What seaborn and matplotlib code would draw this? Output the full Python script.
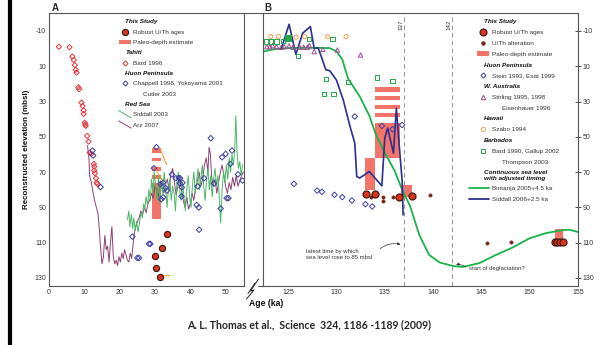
import numpy as np
import pandas as pd
import seaborn as sns
import matplotlib.pyplot as plt
from matplotlib.lines import Line2D
from matplotlib.patches import Patch
from matplotlib.legend_handler import HandlerLine2D

# -----------------------------
# Panel A data (0 - 55 ka)
# -----------------------------
tahiti_age = [2.8, 5.8, 6.6, 7.0, 7.3, 7.6, 7.8, 8.3, 8.5, 9.2, 9.5, 9.8, 9.8, 10.1,
              10.3, 10.4, 10.8, 11.2, 11.5, 12.0, 12.7, 12.8, 12.8, 13.0, 13.3, 13.5, 13.7]
tahiti_depth = [-1.0, -0.8, 4.5, 6.4, 9.3, 12.0, 13.6, 21.9, 23.0, 30.6, 32.5, 35.0, 37.0, 42.0,
                43.0, 43.8, 49.5, 52.7, 59.0, 59.7, 65.4, 66.9, 69.0, 70.6, 73.5, 76.0, 76.7]

huonA_age = [12.3, 12.5, 14.6, 23.6, 25.0, 25.5, 28.3, 28.7, 29.7, 30.4, 31.6, 31.8, 32.3, 32.3,
             33.0, 33.4, 34.8, 35.9, 36.7, 37.1, 37.0, 37.8, 37.6, 37.5, 41.8, 42.1, 42.4, 42.5,
             43.9, 45.8, 46.7, 48.6, 49.0, 50.0, 50.3, 50.8, 51.3, 51.8, 53.5, 54.8]
huonA_depth = [57.8, 60.6, 78.5, 106.6, 118.7, 118.7, 110.7, 110.7, 67.8, 55.9, 76.7, 85.4, 76.0, 84.3,
               79.0, 80.5, 71.3, 73.5, 73.3, 73.5, 76.3, 76.0, 78.7, 83.8, 88.6, 78.1, 90.1, 102.7,
               73.5, 50.8, 76.5, 90.7, 61.6, 59.7, 84.8, 84.8, 65.4, 57.8, 71.3, 74.8]

robustA_age = [33.3, 32.1, 30.0, 30.4, 31.4]
robustA_depth = [105.2, 113.3, 117.5, 124.3, 129.5]

# age uncertainty segments (start -> end)
errA_age0 = [31.4, 30.0, 31.4]
errA_age1 = [33.3, 32.3, 34.2]
errA_d0 = [56.5, 67.8, 129.0]
errA_d1 = [65.9, 75.4, 128.6]

# paleo-depth estimate bars
paleoA_left = [29.2, 29.2, 29.2, 29.2, 29.2]
paleoA_right = [31.6, 31.6, 31.6, 31.6, 31.6]
paleoA_top = [56.5, 61.8, 66.9, 71.6, 76.3]
paleoA_bot = [59.0, 64.0, 69.2, 74.0, 96.7]

siddall03_age = [22.2, 22.6, 22.9, 23.3, 23.7, 24.0, 24.4, 24.8, 25.2, 25.6, 26.0, 26.4, 26.8, 27.1,
                 27.5, 27.9, 28.3, 28.7, 29.0, 29.4, 29.8, 30.2, 30.6, 31.0, 31.4, 31.8, 32.2, 32.6,
                 33.0, 33.4, 33.8, 34.2, 34.6, 35.0, 35.4, 35.8, 36.2, 36.6, 37.0, 37.4, 37.8, 38.2,
                 38.6, 39.0, 39.4, 39.8, 40.2, 40.6, 41.0, 41.4, 41.8, 42.2, 42.6, 43.0, 43.4, 43.8,
                 44.2, 44.6, 45.0, 45.4, 45.8, 46.2, 46.6, 47.0, 47.4, 47.8, 48.2, 48.6, 49.0, 49.4,
                 49.8, 50.2, 50.6, 51.0, 51.4, 51.8, 52.2, 52.6, 52.9, 53.2, 53.6, 54.0, 54.4, 54.8]
siddall03_depth = [97, 92, 101, 94, 102, 96, 103, 98, 104, 99, 93, 96, 88, 91,
                   84, 89, 80, 86, 74, 82, 70, 78, 86, 72, 88, 76, 82, 70,
                   78, 90, 80, 74, 86, 78, 82, 92, 76, 70, 80, 86, 76, 84,
                   92, 80, 72, 84, 90, 78, 70, 82, 75, 68, 80, 74, 66, 78,
                   86, 74, 68, 80, 72, 84, 74, 68, 78, 72, 84, 99, 80, 70,
                   76, 66, 74, 62, 70, 60, 66, 56, 38, 58, 68, 64, 72, 66]

arz_age = [10.9, 11.3, 11.5, 12.0, 12.5, 12.9, 13.4, 13.9, 14.3, 14.6, 15.0, 15.4, 15.8, 16.2,
           16.6, 17.0, 17.4, 17.8, 18.2, 18.6, 19.0, 19.4, 19.8, 20.2, 20.6, 21.0, 21.4, 21.8,
           22.2, 22.6, 23.0, 23.4, 23.8, 24.2, 24.6, 25.0, 25.5, 26.0, 26.5, 27.0, 27.5, 28.0,
           28.5, 29.0, 29.5, 30.0, 30.5, 31.0, 31.5, 32.0, 32.5, 33.0, 33.5, 34.0, 34.5, 35.0,
           35.5, 36.0, 36.5, 37.0, 37.5, 38.0, 38.5, 39.0, 39.5, 40.0, 40.5, 41.0, 41.5, 42.0,
           42.5, 43.0, 43.5, 44.0, 44.5, 45.0, 45.3, 45.7, 46.0, 46.5, 47.0, 47.5, 48.0, 48.5,
           49.0, 49.5, 50.0, 50.5, 51.0, 51.5, 52.0, 52.5, 53.0, 53.5, 54.0, 54.5, 55.0]
arz_depth = [55, 62, 72, 76, 82, 86, 90, 94, 104, 113, 122, 118, 106, 114,
             112, 121, 110, 101, 118, 122, 120, 123, 118, 121, 116, 119, 114, 117,
             120, 121, 116, 119, 111, 104, 101, 98, 96, 92, 94, 90, 93, 88,
             86, 82, 85, 78, 80, 84, 76, 79, 82, 77, 74, 80, 71, 68,
             76, 83, 78, 72, 80, 86, 90, 84, 91, 88, 82, 86, 79, 75,
             70, 78, 74, 66, 62, 70, 56, 60, 72, 78, 74, 82, 76, 70,
             66, 72, 78, 82, 76, 80, 73, 78, 72, 78, 75, 72, 70]

# -----------------------------
# Panel B data (122 - 155 ka)
# -----------------------------
huonB_age = [125.6, 128.0, 128.5, 129.8, 130.6, 131.6, 133.0, 133.7, 131.9, 134.7, 135.8, 136.8]
huonB_depth = [76.7, 80.5, 81.2, 82.9, 84.2, 86.1, 88.2, 89.5, 38.5, 43.8, 45.7, 43.3]

australia_age = [122.8, 123.1, 123.4, 123.8, 124.3, 124.6, 125.1, 125.5, 126.2, 126.6, 127.0,
                 127.2, 127.7, 128.6, 130.1, 132.5]
australia_depth = [-1.1, -1.1, -1.7, -1.1, -0.8, -1.1, -1.5, -0.8, -0.8, -0.8, -0.8,
                   -1.7, 1.7, 0.4, 0.8, 3.6]

hawaii_age = [123.2, 124.0, 125.8, 126.7, 129.1, 131.0]
hawaii_depth = [-6.8, -6.8, -6.5, -6.8, -6.8, -6.8]

barbados_age = [122.7, 123.2, 123.8, 124.5, 126.0, 127.2, 129.6, 128.9, 128.7, 129.7, 131.2,
                134.2, 135.8]
barbados_depth = [-4.0, -4.0, -4.0, -4.3, 4.2, -5.5, -5.3, 17.4, 25.7, 25.7, 19.1, 16.4, 18.3]
barbados_fill_age = [125.0]
barbados_fill_depth = [-6.2]

robustB_age = [133.1, 134.0, 136.5, 137.8, 152.6, 152.8, 153.1, 153.4]
robustB_depth = [82.3, 82.3, 83.9, 83.5, 109.4, 109.4, 109.4, 109.4]

alterB_age = [133.6, 134.8, 134.8, 135.9, 139.7, 145.6, 148.1]
alterB_depth = [84.4, 84.0, 86.5, 84.0, 82.9, 110.3, 109.4]

paleoB_left = [134.0, 134.0, 134.0, 134.0, 134.0, 133.0, 136.7, 152.6]
paleoB_right = [136.6, 136.6, 136.6, 136.6, 136.6, 134.0, 137.8, 153.4]
paleoB_top = [21.9, 26.8, 31.9, 36.6, 42.0, 62.1, 77.3, 102.4]
paleoB_bot = [24.4, 29.1, 34.2, 38.9, 62.1, 80.0, 83.9, 109.4]

bintanja_age = [122.4, 123.5, 125.0, 127.0, 129.3, 130.0, 130.6, 131.2, 132.4, 133.4, 134.1,
                135.0, 136.0, 136.8, 137.6, 138.6, 139.6, 140.7, 142.1, 143.1, 144.8, 146.5,
                148.3, 150.0, 151.7, 153.4, 154.1, 155.0]
bintanja_depth = [1.7, 0.4, -0.3, -0.5, -0.3, 1.5, 6.0, 17.0, 27.0, 38.0, 49.0,
                  59.0, 69.0, 80.0, 89.0, 106.0, 117.0, 121.3, 123.3, 123.8, 121.6, 117.0,
                  112.6, 107.5, 104.6, 102.9, 102.7, 104.0]

siddall06_age = [124.3, 125.1, 125.8, 126.5, 127.3, 127.7, 128.1, 128.4, 128.9, 129.3, 130.0,
                 130.7, 131.4, 131.9, 132.1, 132.4, 133.4, 134.7, 135.0, 135.3, 135.9, 136.2,
                 136.5, 136.8, 136.9]
siddall06_depth = [0.0, -13.8, 3.2, -8.7, -12.5, 0.0, -0.5, 4.0, 12.0, 12.5, 17.8,
                   29.0, 44.0, 53.6, 72.5, 73.4, 69.7, 77.8, 50.8, 45.1, 59.3, 33.8,
                   55.0, 75.0, 94.3]

# -----------------------------
# Colours
# -----------------------------
RED = "#d6361f"
DARK = "#3a1410"
SALMON = "#f4746a"
TAHITI = "#e8333a"
HUON = "#3b3fa6"
GREEN_THIN = "#4bb866"
PURPLE = "#8e3f72"
ORANGE = "#f7941d"
TRI = "#a34a8c"
HAWAII = "#f5a04a"
BARB = "#22a84a"
BINT = "#19b34a"
SID06 = "#2b2f8f"
ALTER = "#7a2418"
SPINE = "#555555"

sns.set_style("white")
plt.rcParams["font.family"] = ["Liberation Sans", "DejaVu Sans"]
plt.rcParams["axes.unicode_minus"] = False


class HandlerShape(HandlerLine2D):
    """Line legend key: slanted (Red Sea) or stretched to the left."""

    def __init__(self, slant=False, extra=0.0, **kw):
        super().__init__(**kw)
        self.slant = slant
        self.extra = extra

    def create_artists(self, legend, orig_handle, xdescent, ydescent,
                       width, height, fontsize, trans):
        x0, x1 = -xdescent - self.extra, width - xdescent
        if self.slant:
            ys = [height - ydescent + 1, -ydescent - 1]
        else:
            ys = [(height - ydescent) / 2 - ydescent / 2] * 2
        line = Line2D([x0, x1], ys)
        self.update_prop(line, orig_handle, legend)
        line.set_transform(trans)
        return [line]


def draw_bars(ax, left, right, top, bot):
    ax.bar(left, np.subtract(bot, top), width=np.subtract(right, left), bottom=top,
           align="edge", color=SALMON, edgecolor="none", zorder=1)


def style_axis(ax):
    for s in ax.spines.values():
        s.set_color(SPINE)
        s.set_linewidth(0.8)
    ax.set_ylim(134.6, -20.2)
    ax.set_yticks([-10, 10, 30, 50, 70, 90, 110, 130])
    ax.tick_params(labelsize=5, colors="#333333", length=2.5, width=0.6,
                   direction="in", pad=2)
    ax.set_xlabel("")
    ax.set_ylabel("")


def make_legend(ax, handles, labels, kinds, anchor, hmap, spacing):
    leg = ax.legend(handles, labels, loc="upper left", bbox_to_anchor=anchor,
                    frameon=False, fontsize=4.6, handlelength=1.95, handletextpad=0.35,
                    labelspacing=spacing, borderaxespad=0, borderpad=0, handler_map=hmap)
    for txt, k in zip(leg.get_texts(), kinds):
        txt.set_color("#333333")
        if k == "h":
            txt.set_fontweight("bold")
            txt.set_fontstyle("italic")
            txt.set_color("#111111")
            txt.set_x(-8)
        elif k == "i":
            txt.set_x(10)
    return leg


fig = plt.figure(figsize=(6, 3.45), dpi=100)
axA = fig.add_axes([49 / 600, 1 - 286 / 345, 195 / 600, 273 / 345])
axB = fig.add_axes([263 / 600, 1 - 286 / 345, 315 / 600, 273 / 345])

# =============================
# PANEL A
# =============================
draw_bars(axA, paleoA_left, paleoA_right, paleoA_top, paleoA_bot)
sns.lineplot(x=arz_age, y=arz_depth, ax=axA, color=PURPLE, lw=0.7,
             estimator=None, sort=False, zorder=2)
sns.lineplot(x=siddall03_age, y=siddall03_depth, ax=axA, color=GREEN_THIN, lw=0.7,
             estimator=None, sort=False, zorder=2)
for a0, a1, d0, d1 in zip(errA_age0, errA_age1, errA_d0, errA_d1):
    axA.plot([a0, a1], [d0, d1], color=ORANGE, lw=0.7, zorder=3)
sns.scatterplot(x=tahiti_age, y=tahiti_depth, ax=axA, marker="D", s=7, color=TAHITI,
                facecolor="none", edgecolor=TAHITI, linewidth=0.7, zorder=4)
sns.scatterplot(x=huonA_age, y=huonA_depth, ax=axA, marker="D", s=8, color=HUON,
                facecolor="none", edgecolor=HUON, linewidth=0.7, zorder=4)
sns.scatterplot(x=robustA_age, y=robustA_depth, ax=axA, marker="o", s=20, color=RED,
                edgecolor=DARK, linewidth=0.8, zorder=5)

axA.set_xlim(0, 55.2)
axA.set_xticks([0, 10, 20, 30, 40, 50])
style_axis(axA)

robust_h = Line2D([], [], ls="none", marker="o", ms=4.5, mfc=RED, mec=DARK, mew=0.8)
paleo_h = Patch(fc=SALMON, ec="none")
blank = Line2D([], [], ls="none")
tahiti_h = Line2D([], [], ls="none", marker="D", ms=2.6, mfc="none", mec=TAHITI, mew=0.7)
huon_h = Line2D([], [], ls="none", marker="D", ms=2.6, mfc="none", mec=HUON, mew=0.7)
sid03_h = Line2D([], [], color=GREEN_THIN, lw=0.7)
arz_h = Line2D([], [], color=PURPLE, lw=0.7)

labelsA = ["This Study", "Robust U/Th ages", "Paleo-depth estimate", "Tahiti", "Bard 1996",
           "Huon Peninsula", "Chappell 1996, Yokoyama 2001", "Cutler 2003", "Red Sea",
           "Siddall 2003", "Arz 2007"]
kindsA = ["h", "", "", "h", "", "h", "", "i", "h", "", ""]
handlesA = [blank, robust_h, paleo_h, blank, tahiti_h, blank, huon_h, blank, blank,
            sid03_h, arz_h]
make_legend(axA, handlesA, labelsA, kindsA, (0.357, 0.978),
            {sid03_h: HandlerShape(slant=True), arz_h: HandlerShape(slant=True)}, 0.76)

# =============================
# PANEL B
# =============================
draw_bars(axB, paleoB_left, paleoB_right, paleoB_top, paleoB_bot)
for xv in [137, 142]:
    axB.axvline(xv, color="#9a9a9a", lw=0.8, ls=(0, (4, 3)), zorder=1)
    axB.text(xv - 0.1, -16.5, str(xv), rotation=90, ha="right", va="top",
             fontsize=4.5, color="#333333")
sns.lineplot(x=bintanja_age, y=bintanja_depth, ax=axB, color=BINT, lw=1.3,
             estimator=None, sort=False, zorder=2)
sns.lineplot(x=siddall06_age, y=siddall06_depth, ax=axB, color=SID06, lw=1.2,
             estimator=None, sort=False, zorder=3)
sns.scatterplot(x=australia_age, y=australia_depth, ax=axB, marker="^", s=10, color=TRI,
                facecolor="none", edgecolor=TRI, linewidth=0.7, zorder=4)
sns.scatterplot(x=hawaii_age, y=hawaii_depth, ax=axB, marker="o", s=9, color=HAWAII,
                facecolor="none", edgecolor=HAWAII, linewidth=0.7, zorder=4)
sns.scatterplot(x=barbados_age, y=barbados_depth, ax=axB, marker="s", s=9, color=BARB,
                facecolor="none", edgecolor=BARB, linewidth=0.7, zorder=4)
sns.scatterplot(x=barbados_fill_age, y=barbados_fill_depth, ax=axB, marker="s", s=16,
                color=BARB, edgecolor=BARB, linewidth=0.7, zorder=4)
sns.scatterplot(x=huonB_age, y=huonB_depth, ax=axB, marker="D", s=8, color=HUON,
                facecolor="none", edgecolor=HUON, linewidth=0.7, zorder=4)
sns.scatterplot(x=alterB_age, y=alterB_depth, ax=axB, marker="o", s=6, color=ALTER,
                edgecolor=ALTER, linewidth=0.3, zorder=5)
sns.scatterplot(x=robustB_age, y=robustB_depth, ax=axB, marker="o", s=26, color=RED,
                edgecolor=DARK, linewidth=0.8, zorder=6)

axB.text(126.9, 116.6, "latest time by which\nsea level rose to 85 mbsl", fontsize=4.3,
         color="#333333", va="center", ha="left", linespacing=1.25)
axB.annotate("", xy=(136.9, 111.5), xytext=(134.3, 114.5),
             arrowprops=dict(arrowstyle="-|>", lw=0.5, color="#333333", mutation_scale=4,
                             connectionstyle="arc3,rad=-0.3"))
axB.text(143.7, 124.8, "start of deglaciation?", fontsize=4.3, color="#333333",
         va="center", ha="left")
axB.annotate("", xy=(142.1, 122.8), xytext=(143.6, 124.8),
             arrowprops=dict(arrowstyle="-|>", lw=0.5, color="#333333", mutation_scale=4,
                             connectionstyle="arc3,rad=0.3"))

axB.set_xlim(122.4, 155)
axB.set_xticks([125, 130, 135, 140, 145, 150, 155])
style_axis(axB)
axB.yaxis.tick_right()
axB.tick_params(axis="y", direction="inout", length=4, pad=1.5)

alter_h = Line2D([], [], ls="none", marker="o", ms=2.2, mfc=ALTER, mec=ALTER)
robustB_h = Line2D([], [], ls="none", marker="o", ms=5, mfc=RED, mec=DARK, mew=0.8)
huonB_h = Line2D([], [], ls="none", marker="D", ms=2.6, mfc="none", mec=HUON, mew=0.7)
tri_h = Line2D([], [], ls="none", marker="^", ms=3.2, mfc="none", mec=TRI, mew=0.7)
haw_h = Line2D([], [], ls="none", marker="o", ms=3.0, mfc="none", mec=HAWAII, mew=0.7)
barb_h = Line2D([], [], ls="none", marker="s", ms=2.6, mfc="none", mec=BARB, mew=0.7)
bint_h = Line2D([], [], color=BINT, lw=1.3)
sid06_h = Line2D([], [], color=SID06, lw=1.3)

labelsB = ["This Study", "Robust U/Th ages", "U/Th alteration", "Paleo-depth estimate",
           "Huon Peninsula", "Stein 1993, Esat 1999", "W. Australia", "Stirling 1995, 1998",
           "Eisenhauer 1996", "Hawaii", "Szabo 1994", "Barbados", "Bard 1990, Gallup 2002",
           "Thompson 2003", "Continuous sea level\nwith adjusted timing",
           "Bintanja 2005+4.5 ka", "Siddall 2006+2.5 ka"]
kindsB = ["h", "", "", "", "h", "", "h", "", "i", "h", "", "h", "", "i", "h", "", ""]
handlesB = [blank, robustB_h, alter_h, paleo_h, blank, huonB_h, blank, tri_h, blank, blank,
            haw_h, blank, barb_h, blank, blank, bint_h, sid06_h]
make_legend(axB, handlesB, labelsB, kindsB, (0.679, 0.978),
            {bint_h: HandlerShape(extra=6), sid06_h: HandlerShape(extra=6)}, 0.83)

# =============================
# Figure decorations
# =============================
def px(x, y):
    return x / 600, 1 - y / 345


def fig_line(pts, **kw):
    xs, ys = zip(*[px(*p) for p in pts])
    fig.add_artist(Line2D(xs, ys, transform=fig.transFigure, **kw))


fig_line([(10, 0), (10, 345)], color="black", lw=3)
fig_line([(244, 13), (263, 13)], color=SPINE, lw=0.8)
fig_line([(258, 285.5), (263, 285.5)], color=SPINE, lw=0.8)
fig_line([(258.5, 279), (250.5, 291), (254, 290), (246.5, 299)], color="#222222", lw=0.7)
fig_line([(255, 283), (248, 293.5)], color="#222222", lw=0.7)

fig.text(27 / 600, 1 - 149.5 / 345, "Reconstructed elevation (mbsl)", rotation=90,
         ha="center", va="center", fontsize=5.8, fontweight="bold", color="#111111")
fig.text(266 / 600, 1 - 304 / 345, "Age (ka)", ha="center", va="center",
         fontsize=6.2, fontweight="bold", color="#111111")
fig.text(55 / 600, 1 - 8 / 345, "A", ha="center", va="center", fontsize=7,
         fontweight="bold")
fig.text(268 / 600, 1 - 8 / 345, "B", ha="center", va="center", fontsize=7,
         fontweight="bold")
fig.text(309 / 600, 1 - 325 / 345, "A. L. Thomas et al.,  Science  324, 1186 -1189 (2009)",
         ha="center", va="center", fontsize=7.6, fontweight="bold", family="Lato")

fig.savefig("out.png", dpi=100)
